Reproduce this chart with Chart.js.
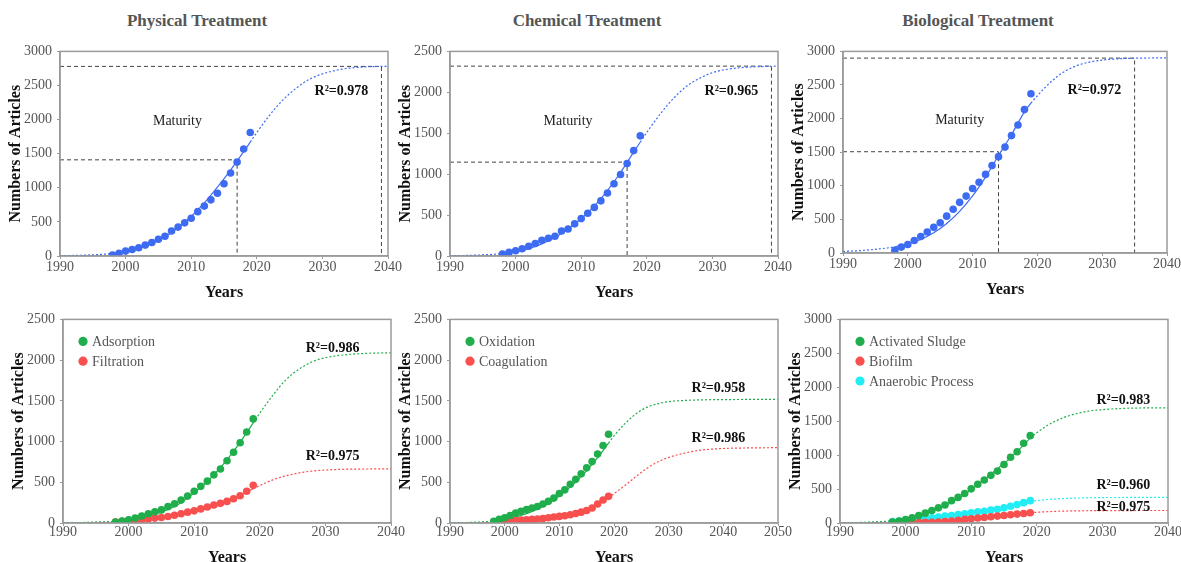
<!DOCTYPE html>
<html>
<head>
<meta charset="utf-8">
<title>Growth curves of treatment research</title>
<script src="https://cdn.jsdelivr.net/npm/chart.js@4.4.1/dist/chart.umd.min.js"></script>
<style>
  html, body { margin: 0; padding: 0; background: #fff; overflow: hidden; }
  #page { position: relative; width: 1181px; height: 562px; }
  canvas { position: absolute; }
  .head { position: absolute; top: 11px; font: bold 17px "Liberation Serif", serif; color: #555;
          transform: translateX(-50%); white-space: nowrap; }
</style>
</head>
<body>
<div id="page">
  <div class="head" style="left:197px">Physical Treatment</div>
  <div class="head" style="left:587px">Chemical Treatment</div>
  <div class="head" style="left:978px">Biological Treatment</div>
  <canvas id="physical" width="408" height="264" style="left:0px;top:38px"></canvas>
  <canvas id="chemical" width="408" height="264" style="left:390px;top:38px"></canvas>
  <canvas id="biological" width="404" height="261" style="left:783px;top:38px"></canvas>
  <canvas id="physicalSub" width="408" height="261" style="left:3px;top:306px"></canvas>
  <canvas id="chemicalSub" width="408" height="261" style="left:390px;top:306px"></canvas>
  <canvas id="biologicalSub" width="408" height="261" style="left:780px;top:306px"></canvas>
</div>
<script>
// publication years with observed counts
const years = [1998, 1999, 2000, 2001, 2002, 2003, 2004, 2005, 2006, 2007, 2008,
               2009, 2010, 2011, 2012, 2013, 2014, 2015, 2016, 2017, 2018, 2019];
const fitYears = [1990, 1993, 1996, 1998, 2000, 2002, 2004, 2006, 2008, 2010, 2012, 2014,
                  2016, 2018, 2019, 2020, 2022, 2024, 2026, 2028, 2030, 2033, 2036, 2040];
const fitYears50 = fitYears.concat([2045, 2050]);

// top row: totals
const physical = [15, 40, 72, 96, 120, 160, 197, 245, 290, 366, 424, 486, 554, 650, 732, 823, 920, 1060, 1218, 1377, 1570, 1810];
const chemical = [24, 44, 64, 88, 120, 152, 193, 217, 241, 305, 329, 393, 457, 522, 594, 674, 770, 883, 995, 1131, 1288, 1468];
const biological = [39, 88, 127, 186, 245, 313, 382, 450, 548, 651, 754, 847, 959, 1052, 1170, 1302, 1434, 1576, 1747, 1904, 2134, 2369];

const physicalFit = [5, 10, 22, 38, 65, 110, 180, 280, 415, 580, 780, 1010, 1260, 1530, 1670, 1810, 2070, 2290, 2460, 2590, 2670, 2740, 2770, 2782];
const chemicalFit = [4, 8, 18, 30, 52, 90, 148, 225, 330, 455, 610, 800, 1020, 1270, 1390, 1510, 1730, 1920, 2070, 2170, 2240, 2290, 2310, 2320];
const biologicalFit = [22, 38, 65, 92, 135, 200, 300, 440, 620, 850, 1130, 1450, 1760, 2100, 2230, 2340, 2540, 2690, 2785, 2840, 2870, 2893, 2900, 2905];

// saturation level / half level and the years they are reached
const physicalCap = 2780, physicalHalf = 1410, physicalMidYear = 2017, physicalCapYear = 2039;
const chemicalCap = 2320, chemicalHalf = 1147, chemicalMidYear = 2017, chemicalCapYear = 2039;
const biologicalCap = 2900, biologicalHalf = 1507, biologicalMidYear = 2014, biologicalCapYear = 2035;

// bottom row: single methods
const adsorption = [12, 25, 40, 60, 85, 113, 137, 161, 201, 237, 281, 330, 390, 450, 514, 591, 663, 764, 868, 985, 1117, 1278];
const filtration = [12, 20, 28, 36, 40, 48, 60, 68, 80, 96, 113, 133, 149, 173, 197, 221, 241, 265, 297, 334, 390, 462];
const oxidation = [20, 44, 65, 93, 121, 145, 165, 185, 202, 234, 266, 306, 363, 407, 476, 536, 605, 677, 754, 847, 952, 1089];
const coagulation = [12, 16, 20, 24, 32, 36, 40, 44, 48, 56, 65, 73, 81, 89, 101, 117, 133, 153, 185, 234, 282, 327];
const sludge = [15, 30, 50, 75, 110, 145, 184, 223, 266, 329, 377, 435, 503, 571, 634, 702, 765, 861, 968, 1050, 1176, 1287];
const biofilm = [2, 3, 4, 6, 8, 10, 12, 14, 20, 29, 39, 53, 63, 73, 82, 92, 102, 111, 121, 131, 140, 150];
const anaerobic = [20, 29, 39, 48, 58, 68, 77, 87, 102, 111, 126, 135, 150, 165, 174, 189, 203, 223, 247, 271, 300, 329];

const adsorptionFit = [3, 6, 14, 22, 40, 65, 105, 165, 250, 370, 510, 680, 880, 1110, 1230, 1350, 1570, 1760, 1890, 1980, 2030, 2065, 2082, 2090];
const filtrationFit = [2, 4, 8, 13, 22, 34, 50, 72, 100, 135, 180, 235, 300, 380, 420, 460, 530, 580, 615, 638, 650, 660, 663, 665];
const oxidationFit = [3, 6, 14, 25, 45, 75, 115, 170, 240, 330, 440, 570, 720, 890, 980, 1070, 1220, 1340, 1420, 1465, 1490, 1505, 1512, 1515, 1517, 1517];
const coagulationFit = [1, 2, 4, 6, 10, 15, 22, 32, 45, 65, 95, 135, 190, 265, 310, 360, 460, 570, 670, 750, 805, 860, 895, 915, 922, 925];
const sludgeFit = [3, 8, 20, 35, 65, 110, 170, 250, 360, 490, 640, 800, 960, 1150, 1250, 1330, 1460, 1550, 1610, 1650, 1670, 1688, 1695, 1698];
const anaerobicFit = [2, 5, 12, 20, 35, 52, 72, 95, 122, 150, 180, 210, 245, 290, 315, 330, 348, 360, 367, 372, 375, 376, 377, 377];
const biofilmFit = [0, 0, 1, 2, 4, 8, 14, 24, 38, 58, 80, 102, 122, 140, 150, 158, 168, 175, 179, 181, 182, 183, 184, 184];

const BLUE = '#3d6cf2', GREEN = '#1fae4b', RED = '#f84f4f', CYAN = '#22edf5';
const SERIF = '"Liberation Serif", "Times New Roman", serif';

const toXY = (xs, ys) => xs.map((x, i) => ({ x: x, y: ys[i] }));

function pointsSet(label, values, color) {
  return {
    label: label, data: toXY(years, values), showLine: false, inLegend: true,
    pointRadius: 3.8, pointHoverRadius: 3.8, pointBorderWidth: 0,
    backgroundColor: color, borderColor: color
  };
}

function fitSet(xs, values, color) {
  return {
    data: toXY(xs, values), showLine: true, pointRadius: 0, borderColor: color, borderWidth: 1.2,
    cubicInterpolationMode: 'monotone',
    segment: {
      // solid over the observed years, dotted for the extrapolation
      borderDash: c => (c.p0.parsed.x >= years[0] && c.p1.parsed.x <= years[years.length - 1]) ? [] : [2, 2]
    }
  };
}

function guideSet(level, year) {
  return {
    data: [{ x: 1990, y: level }, { x: year, y: level }, { x: year, y: 0 }],
    showLine: true, pointRadius: 0, borderColor: '#444', borderWidth: 1, borderDash: [4, 3]
  };
}

// frame round the plot, text notes and an in-plot legend
const frameNotes = {
  id: 'frameNotes',
  afterDatasetsDraw(chart, args, opts) {
    const { ctx, chartArea: a, scales: { x, y } } = chart;
    ctx.save();
    ctx.strokeStyle = '#9a9a9a';
    ctx.lineWidth = 1.5;
    ctx.strokeRect(a.left, a.top, a.right - a.left, a.bottom - a.top);
    ctx.textAlign = 'center';
    ctx.textBaseline = 'middle';
    (opts.notes || []).forEach(n => {
      ctx.font = (n.bold ? 'bold ' : '') + '14px ' + SERIF;
      ctx.fillStyle = n.bold ? '#111' : '#222';
      ctx.fillText(n.text, x.getPixelForValue(n.x), y.getPixelForValue(n.y));
    });
    if (opts.legend) {
      chart.data.datasets.filter(d => d.inLegend).forEach((d, i) => {
        const cx = a.left + 20, cy = a.top + 22 + i * 19.8;
        ctx.beginPath();
        ctx.arc(cx, cy, 4.6, 0, Math.PI * 2);
        ctx.fillStyle = d.backgroundColor;
        ctx.fill();
        ctx.font = '14px ' + SERIF;
        ctx.fillStyle = '#555';
        ctx.textAlign = 'left';
        ctx.fillText(d.label, cx + 9, cy + 1);
      });
    }
    ctx.restore();
  }
};

function makeChart(id, cfg) {
  const tickFont = { family: SERIF, size: 14 };
  const titleFont = { family: SERIF, size: 16, weight: 'bold' };
  return new Chart(document.getElementById(id), {
    type: 'scatter',
    data: { datasets: cfg.datasets },
    options: {
      responsive: false,
      animation: false,
      events: [],
      layout: { padding: { top: 10, right: 20, left: 0, bottom: 0 } },
      plugins: {
        legend: { display: false },
        tooltip: { enabled: false },
        frameNotes: { notes: cfg.notes, legend: cfg.legend }
      },
      scales: {
        x: {
          type: 'linear', min: 1990, max: cfg.xMax,
          border: { color: '#9a9a9a', width: 1.5 },
          grid: { drawOnChartArea: false, tickLength: 3, color: '#9a9a9a' },
          ticks: { stepSize: 10, padding: cfg.xPad, color: '#555', font: tickFont, callback: v => String(v) },
          title: { display: true, text: 'Years', color: '#111', font: titleFont, padding: { top: 0, bottom: 0 } },
          afterFit: s => { s.height = cfg.xH; }
        },
        y: {
          min: 0, max: cfg.yMax,
          border: { color: '#9a9a9a', width: 1.5 },
          grid: { drawOnChartArea: false, tickLength: 3, color: '#9a9a9a' },
          ticks: { stepSize: 500, padding: 5, color: '#555', font: tickFont, callback: v => String(v) },
          title: { display: true, text: 'Numbers of Articles', color: '#111', font: titleFont, padding: { top: 6, bottom: 0 } },
          afterFit: s => { s.width = 60; }
        }
      }
    },
    plugins: [frameNotes]
  });
}

makeChart('physical', {
  xMax: 2040, yMax: 3000, xH: 46, xPad: 0,
  datasets: [
    pointsSet('Physical', physical, BLUE),
    fitSet(fitYears, physicalFit, BLUE),
    guideSet(physicalCap, physicalCapYear),
    guideSet(physicalHalf, physicalMidYear)
  ],
  notes: [
    { x: 2007.9, y: 1974, text: 'Maturity' },
    { x: 2032.9, y: 2407, text: 'R²=0.978', bold: true }
  ]
});

makeChart('chemical', {
  xMax: 2040, yMax: 2500, xH: 46, xPad: 0,
  datasets: [
    pointsSet('Chemical', chemical, BLUE),
    fitSet(fitYears, chemicalFit, BLUE),
    guideSet(chemicalCap, chemicalCapYear),
    guideSet(chemicalHalf, chemicalMidYear)
  ],
  notes: [
    { x: 2008.0, y: 1645, text: 'Maturity' },
    { x: 2032.9, y: 2006, text: 'R²=0.965', bold: true }
  ]
});

makeChart('biological', {
  xMax: 2040, yMax: 3000, xH: 46, xPad: 0,
  datasets: [
    pointsSet('Biological', biological, BLUE),
    fitSet(fitYears, biologicalFit, BLUE),
    guideSet(biologicalCap, biologicalCapYear),
    guideSet(biologicalHalf, biologicalMidYear)
  ],
  notes: [
    { x: 2008.0, y: 1972, text: 'Maturity' },
    { x: 2028.8, y: 2427, text: 'R²=0.972', bold: true }
  ]
});

makeChart('physicalSub', {
  xMax: 2040, yMax: 2500, xH: 44, xPad: -2, legend: true,
  datasets: [
    pointsSet('Adsorption', adsorption, GREEN),
    pointsSet('Filtration', filtration, RED),
    fitSet(fitYears, adsorptionFit, GREEN),
    fitSet(fitYears, filtrationFit, RED)
  ],
  notes: [
    { x: 2031.1, y: 2138, text: 'R²=0.986', bold: true },
    { x: 2031.1, y: 816, text: 'R²=0.975', bold: true }
  ]
});

makeChart('chemicalSub', {
  xMax: 2050, yMax: 2500, xH: 44, xPad: -2, legend: true,
  datasets: [
    pointsSet('Oxidation', oxidation, GREEN),
    pointsSet('Coagulation', coagulation, RED),
    fitSet(fitYears50, oxidationFit, GREEN),
    fitSet(fitYears50, coagulationFit, RED)
  ],
  notes: [
    { x: 2039.1, y: 1653, text: 'R²=0.958', bold: true },
    { x: 2039.1, y: 1040, text: 'R²=0.986', bold: true }
  ]
});

makeChart('biologicalSub', {
  xMax: 2040, yMax: 3000, xH: 44, xPad: -2, legend: true,
  datasets: [
    pointsSet('Activated Sludge', sludge, GREEN),
    pointsSet('Biofilm', biofilm, RED),
    pointsSet('Anaerobic Process', anaerobic, CYAN),
    fitSet(fitYears, sludgeFit, GREEN),
    fitSet(fitYears, biofilmFit, RED),
    fitSet(fitYears, anaerobicFit, CYAN)
  ],
  notes: [
    { x: 2033.2, y: 1805, text: 'R²=0.983', bold: true },
    { x: 2033.2, y: 556, text: 'R²=0.960', bold: true },
    { x: 2033.2, y: 223, text: 'R²=0.975', bold: true }
  ]
});
</script>
</body>
</html>
